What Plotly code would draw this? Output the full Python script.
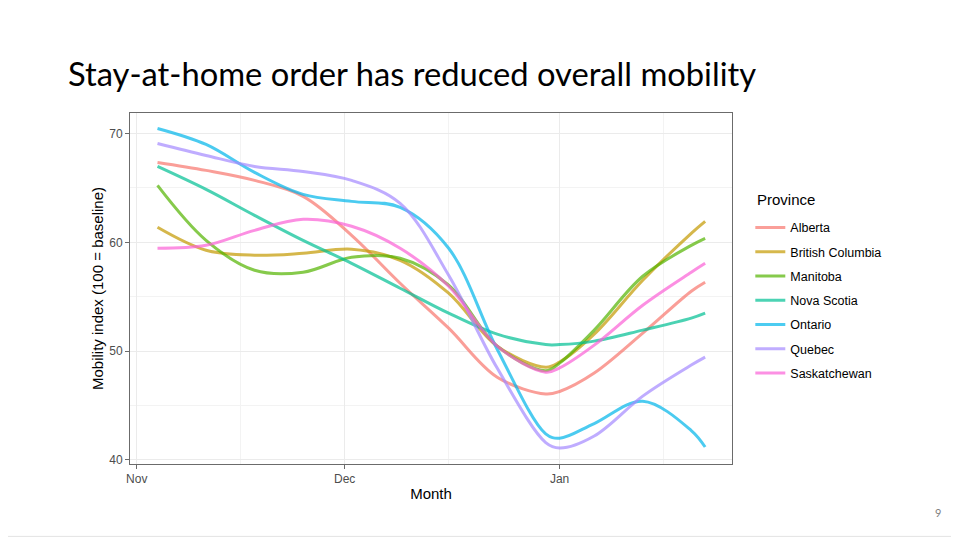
import plotly.graph_objects as go

dates = ["2020-11-04", "2020-11-11", "2020-11-18", "2020-11-25", "2020-12-02",
         "2020-12-09", "2020-12-16", "2020-12-23", "2020-12-30", "2021-01-01",
         "2021-01-06", "2021-01-13", "2021-01-20", "2021-01-22"]

provinces = ["Alberta", "British Columbia", "Manitoba", "Nova Scotia",
             "Ontario", "Quebec", "Saskatchewan"]

alberta = [67.34, 66.61, 65.69, 64.22, 60.64, 56.24, 52.11, 47.61, 46.06, 46.29, 47.98, 51.65, 55.50, 56.33]
british_columbia = [61.38, 59.27, 58.81, 58.99, 59.36, 58.35, 55.32, 50.46, 48.53, 49.00, 51.56, 56.51, 60.83, 61.93]
manitoba = [65.23, 60.18, 57.43, 57.25, 58.62, 58.53, 56.06, 50.46, 48.20, 48.90, 51.93, 56.88, 59.72, 60.37]
nova_scotia = [66.97, 64.86, 62.48, 60.18, 58.07, 55.78, 53.49, 51.56, 50.60, 50.60, 50.92, 51.93, 53.03, 53.49]
ontario = [70.46, 68.99, 66.42, 64.40, 63.76, 63.21, 59.45, 50.18, 42.40, 42.00, 43.35, 45.40, 42.70, 41.19]
quebec = [69.08, 67.98, 66.97, 66.51, 65.69, 63.58, 56.97, 48.44, 41.60, 41.10, 42.20, 45.87, 48.72, 49.45]
saskatchewan = [59.45, 59.72, 61.10, 62.11, 61.47, 59.45, 55.96, 50.46, 48.07, 48.46, 50.55, 54.22, 57.25, 58.07]

series = [alberta, british_columbia, manitoba, nova_scotia, ontario, quebec, saskatchewan]
colors = ["#F8766D", "#C49A00", "#53B400", "#00C094", "#00B6EB", "#A58AFF", "#FB61D7"]

month_ticks = ["2020-11-01", "2020-12-01", "2021-01-01"]
month_labels = ["Nov", "Dec", "Jan"]
minor_x = ["2020-11-16", "2020-12-16", "2021-01-16"]
y_ticks = [40, 50, 60, 70]
minor_y = [45, 55, 65]

# page body has an 8px offset; figure laid out in that frame
W, H = 951, 531
L, T, B = 122, 105, 74.5
R = W - (731.7 - 8)
PW = W - L - R
PH = H - T - B


def px(xpix):
    return (xpix - L) / PW


def py(ypix):
    return (H - B - ypix) / PH


fig = go.Figure()
for name, vals, col in zip(provinces, series, colors):
    fig.add_trace(go.Scatter(
        x=dates, y=vals, name=name, mode="lines",
        line=dict(color=col, width=3, shape="spline", smoothing=1.0),
        opacity=0.7, legendgroup=name,
    ))

axis_common = dict(
    showline=True, linecolor="#6b6b6b", linewidth=1, mirror=True,
    ticks="outside", ticklen=4, tickcolor="#6b6b6b",
    gridcolor="#EBEBEB", gridwidth=1, zeroline=False,
    tickfont=dict(family="Liberation Sans, Arial", size=12, color="#4D4D4D"),
)

fig.update_layout(
    width=W, height=H,
    paper_bgcolor="white", plot_bgcolor="white",
    margin=dict(l=L, r=R, t=T, b=B),
    title=dict(text="Stay-at-home order has reduced overall mobility",
               x=60 / W, xanchor="left", y=1 - 67 / H, yanchor="middle",
               font=dict(family="Lato", size=32.7, color="black")),
    xaxis=dict(
        **axis_common,
        type="date",
        range=["2020-10-31 00:45", "2021-01-25 21:00"],
        tickvals=month_ticks, ticktext=month_labels,
        minor=dict(tickvals=minor_x, showgrid=True, gridcolor="#F3F3F3", gridwidth=0.8, ticks=""),
        title=dict(text="Month", standoff=3,
                   font=dict(family="Liberation Sans, Arial", size=15, color="black")),
    ),
    yaxis=dict(
        **axis_common,
        range=[39.63, 71.88],
        tickvals=y_ticks,
        minor=dict(tickvals=minor_y, showgrid=True, gridcolor="#F3F3F3", gridwidth=0.8, ticks=""),
        title=dict(text="Mobility index (100 = baseline)", standoff=1,
                   font=dict(family="Liberation Sans, Arial", size=15, color="black")),
    ),
    legend=dict(
        font=dict(family="Liberation Sans, Arial", size=12.5, color="black"),
        x=px(742), xanchor="left", y=py(205), yanchor="top",
        tracegroupgap=5, itemwidth=30,
        bgcolor="rgba(0,0,0,0)",
    ),
    annotations=[
        dict(text="Province", xref="paper", yref="paper", x=px(747), y=py(192),
             xanchor="left", yanchor="middle", showarrow=False,
             font=dict(family="Liberation Sans, Arial", size=15, color="black")),
        dict(text="9", xref="paper", yref="paper", x=px(930), y=py(505),
             xanchor="center", yanchor="middle",
             showarrow=False, font=dict(family="Lato", size=11, color="#7f7f7f")),
    ],
    shapes=[dict(type="line", xref="paper", yref="paper", x0=px(-8), x1=px(W),
                 y0=py(529), y1=py(529),
                 line=dict(color="#E3E3E3", width=1))],
)

fig.write_html("out.html")
